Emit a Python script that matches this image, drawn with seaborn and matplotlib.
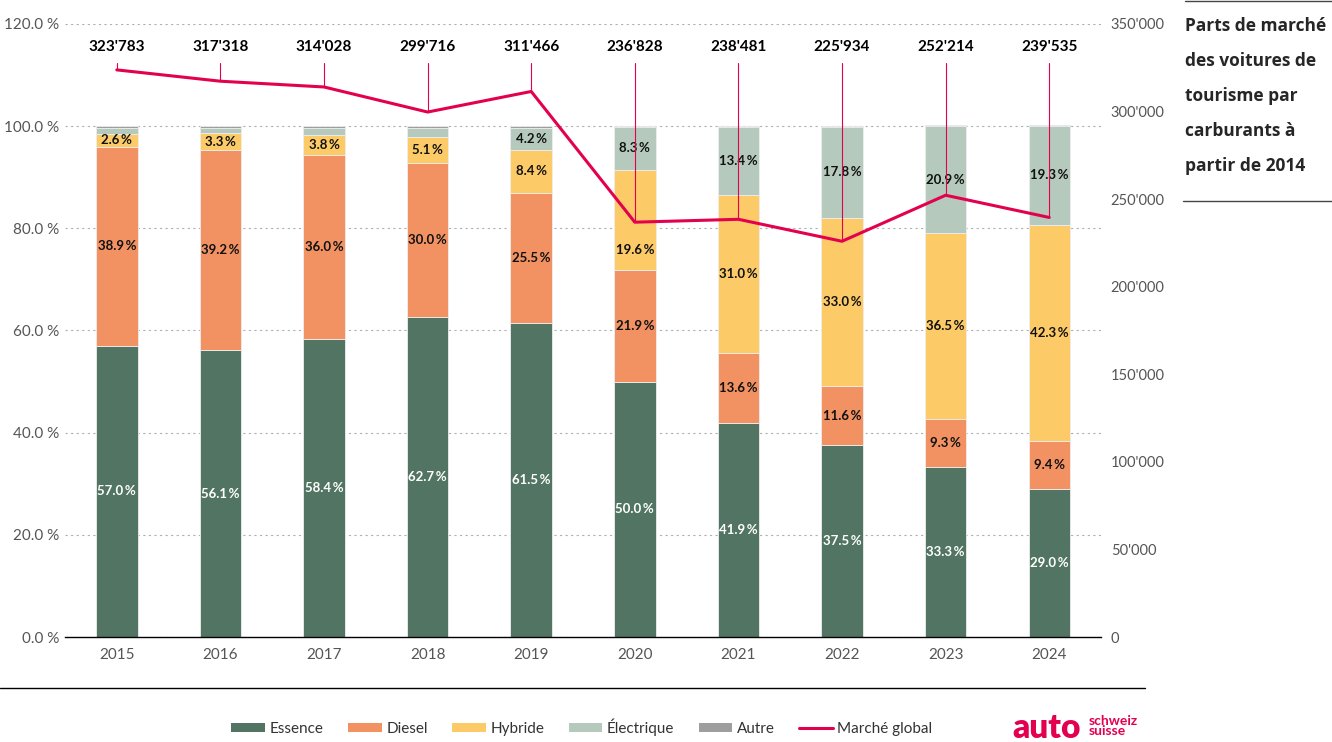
import numpy as np
import matplotlib
matplotlib.use("Agg")
import matplotlib.pyplot as plt
from matplotlib.lines import Line2D
from matplotlib.patches import Patch
import seaborn as sns

# Data
years = ["2015", "2016", "2017", "2018", "2019", "2020", "2021", "2022", "2023", "2024"]
essence = [57.0, 56.1, 58.4, 62.7, 61.5, 50.0, 41.9, 37.5, 33.3, 29.0]
diesel = [38.9, 39.2, 36.0, 30.0, 25.5, 21.9, 13.6, 11.6, 9.3, 9.4]
hybride = [2.6, 3.3, 3.8, 5.1, 8.4, 19.6, 31.0, 33.0, 36.5, 42.3]
electrique = [1.2, 1.1, 1.5, 1.9, 4.2, 8.3, 13.4, 17.8, 20.9, 19.3]
autre = [0.3, 0.3, 0.3, 0.3, 0.4, 0.2, 0.1, 0.1, 0.3, 0.3]
marche = [323783, 317318, 314028, 299716, 311466, 236828, 238481, 225934, 252214, 239535]

# which electric segments carry a label
lab_electrique = [False, False, False, False, True, True, True, True, True, True]

colors = {
    "Essence": "#527563",
    "Diesel": "#F29263",
    "Hybride": "#FCCB68",
    "Électrique": "#B5CABD",
    "Autre": "#9E9E9E",
}
pink = "#E3004F"
grey_txt = "#555555"

sns.set_theme(style="white")
plt.rcParams['font.family'] = ['Lato', 'DejaVu Sans']

fig = plt.figure(figsize=(13.32, 7.42), dpi=100)
ax = fig.add_axes([0.0488, 0.1415, 0.7778, 0.8262])

series = [("Essence", essence), ("Diesel", diesel), ("Hybride", hybride),
          ("Électrique", electrique), ("Autre", autre)]
bottom = np.zeros(len(years))
for name, vals in series:
    sns.barplot(x=years, y=vals, bottom=bottom, color=colors[name], width=0.4,
                edgecolor="#eeeeee", linewidth=0.6, ax=ax, saturation=1)
    bottom = bottom + np.array(vals)

# segment labels
def fmt(v):
    return f"{v:.1f}\u2009%"

b = np.zeros(len(years))
for name, vals in series:
    for i, v in enumerate(vals):
        show = name in ("Essence", "Diesel", "Hybride") or (name == "Électrique" and lab_electrique[i])
        if show:
            ypos = b[i] + v / 2
            # the 2020 hybrid label sits lower, clear of the market line
            if name == "Hybride" and years[i] == "2020":
                ypos = b[i] + v * 0.2
            ax.text(i, ypos, fmt(v), ha="center", va="center", fontsize=9.5,
                    fontweight="bold", color="white" if name == "Essence" else "#111111")
    b = b + np.array(vals)

ax.set_xlim(-0.5, 9.5)
ax.set_ylim(0, 120)
ax.set_yticks(np.arange(0, 121, 20))
ax.set_yticklabels([f"{v:.1f} %" for v in np.arange(0, 121, 20)], color=grey_txt, fontsize=11)
ax.tick_params(axis="x", colors=grey_txt, labelsize=11, length=0, pad=8)
ax.tick_params(axis="y", length=0, pad=4)
ax.yaxis.grid(True, linestyle=(0, (2, 3)), color="#b0b0b0", linewidth=0.8)
ax.set_axisbelow(True)
for s in ["top", "right", "left"]:
    ax.spines[s].set_visible(False)
ax.spines["bottom"].set_color("black")
ax.spines["bottom"].set_linewidth(1.0)
ax.set_xlabel("")
ax.set_ylabel("")

# market line on right axis
ax2 = ax.twinx()
sns.lineplot(x=np.arange(len(years)), y=marche, color=pink, linewidth=2.2, ax=ax2)
ax2.set_ylim(0, 350000)
ax2.set_yticks(np.arange(0, 350001, 50000))
ax2.set_yticklabels(["0" if v == 0 else f"{v // 1000}'000" for v in range(0, 350001, 50000)],
                    color=grey_txt, fontsize=10.5)
ax2.tick_params(axis="y", length=0, pad=7)
for s in ax2.spines.values():
    s.set_visible(False)
ax2.set_ylabel("")
ax2.grid(False)

for i, v in enumerate(marche):
    ax2.text(i, 337000, f"{v:,}".replace(",", "'"), ha="center", va="center",
             fontsize=11, fontweight="bold", color="black")
    ax2.plot([i, i], [327500, v], color=pink, linewidth=0.8)

# title block at right
fig.text(1185 / 1332, 1 - 96 / 742,
         "Parts de marché\ndes voitures de\ntourisme par\ncarburants à\npartir de 2014",
         ha="left", va="center", fontsize=12.5, fontweight="bold", linespacing=2.2,
         family=['Open Sans', 'DejaVu Sans'])
fig.add_artist(Line2D([1185 / 1332, 1], [0.999, 0.999], color="#444444", linewidth=1))
fig.add_artist(Line2D([1183 / 1332, 1], [1 - 201 / 742, 1 - 201 / 742], color="#444444", linewidth=1))

# separator line under axis
fig.add_artist(Line2D([0, 1145 / 1332], [1 - 688 / 742, 1 - 688 / 742], color="black", linewidth=1))

# legend
handles = [Patch(facecolor=colors[n], edgecolor="none", label=n) for n in colors]
handles.append(Line2D([0], [0], color=pink, linewidth=2.2, label="Marché global"))
fig.legend(handles=handles, loc="center", bbox_to_anchor=(582 / 1332, 1 - 727 / 742),
           ncol=6, frameon=False, fontsize=11, handlelength=2.2, handleheight=0.55,
           handletextpad=0.3, columnspacing=1.6, labelcolor="#333333")

# logo
fig.text(1012 / 1332, 1 - 728 / 742, "auto", ha="left", va="center", fontsize=24,
         fontweight="heavy", color=pink)
fig.text(1089 / 1332, 1 - 726 / 742, "schweiz\nsuisse", ha="left", va="center", fontsize=10,
         fontweight="bold", color=pink, linespacing=0.8)

fig.savefig("out.png", dpi=100)
